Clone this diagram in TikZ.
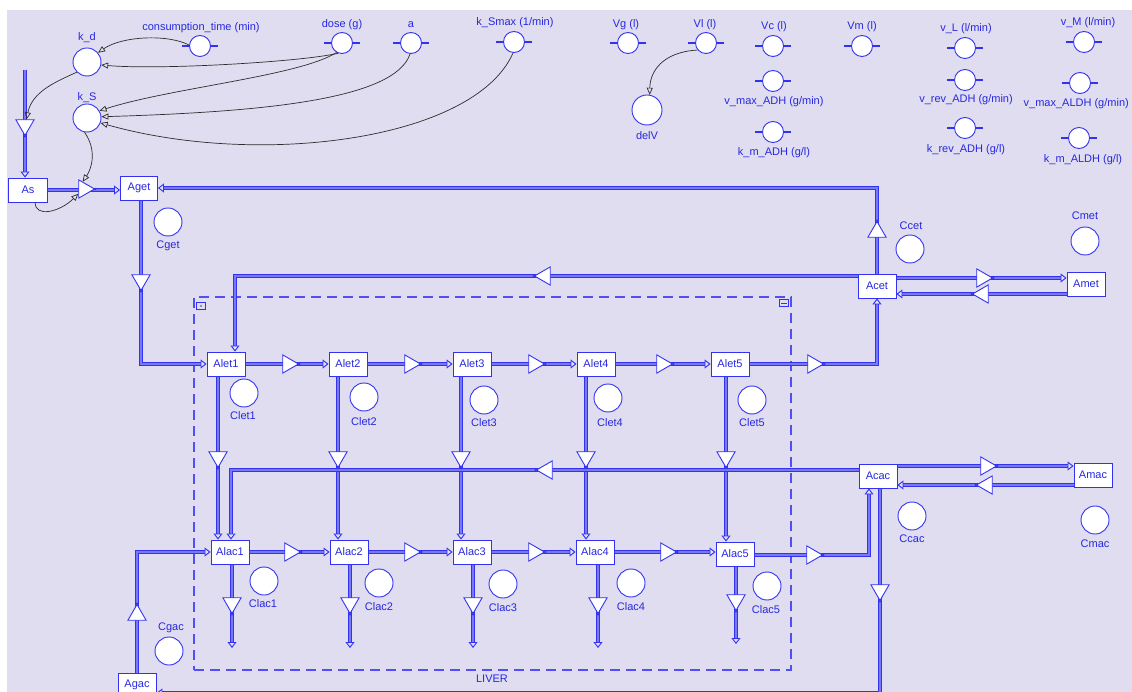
\documentclass[tikz,border=0pt]{standalone}
\usepackage{fontspec}
\setmainfont{Liberation Sans}
\usetikzlibrary{arrows.meta,shapes.geometric,calc}
\definecolor{bgc}{RGB}{223,221,239}
\definecolor{pb}{RGB}{50,50,240}
\definecolor{pf}{RGB}{120,120,250}
\definecolor{tb}{RGB}{40,40,225}
\definecolor{ik}{RGB}{45,45,45}
\newcommand\dfont{\fontsize{11}{13}\selectfont}
\pgfdeclarelayer{back}
\pgfdeclarelayer{pipes}
\pgfsetlayers{back,pipes,main}
\tikzset{
 stock/.style={rectangle, draw=pb, fill=white, line width=0.9pt, minimum width=38pt, minimum height=24pt, inner sep=1pt, text=tb, font=\dfont},
 conv/.style={circle, draw=pb, fill=white, line width=0.9pt, minimum size=28pt, inner sep=0pt},
 param/.style={circle, draw=pb, fill=white, line width=0.9pt, minimum size=21pt, inner sep=0pt},
 tick/.style={draw=pb, line width=1.3pt},
 lab/.style={text=tb, font=\dfont, inner sep=1pt, text height=8pt, text depth=2.5pt},
 valve/.style={regular polygon, regular polygon sides=3, draw=pb, fill=white, line width=0.9pt, minimum size=21pt, inner sep=0pt},
 valveR/.style={valve, shape border rotate=-90},
 valveL/.style={valve, shape border rotate=90},
 valveU/.style={valve, shape border rotate=0},
 valveD/.style={valve, shape border rotate=180},
 pipe/.style={draw=pb, line width=3.6pt, shorten >=6pt,
   postaction={draw=pf, line width=1.4pt, shorten >=6pt},
   postaction={draw=pf, line width=0.5pt, shorten >=0pt, -{Triangle[open, color=pb, length=6pt, width=9pt, line width=0.9pt]}}},
 info/.style={draw=ik, line width=0.7pt, -{Triangle[open, length=7pt, width=6pt]}},
 liverbox/.style={rectangle, draw=pb!85, dash pattern=on 10pt off 6pt, line width=1.2pt, minimum width=597pt, minimum height=373pt, inner sep=0pt},
 icon/.style={rectangle, draw=pb, fill=bgc, minimum width=9pt, minimum height=7pt, inner sep=0pt, line width=0.7pt}
}
\begin{document}
\begin{tikzpicture}[x=1pt,y=-1pt]
\useasboundingbox (0,0) rectangle (1132,692);
\begin{pgfonlayer}{back}
\fill[white] (0,0) rectangle (1132,692);
\fill[bgc] (7,10) rectangle (1132,692);
\end{pgfonlayer}

% ---------- parameters ----------
\node[param] (ct) at (200,46) {};
\node[lab] (lct) at (201,28) {consumption\_time (min)};
\node[param] (dose) at (342,43) {};
\node[lab] (ldose) at (342,25) {dose (g)};
\node[param] (pa) at (411,43) {};
\node[lab] (lpa) at (411,25) {a};
\node[param] (ksm) at (514,42) {};
\node[lab] (lksm) at (515,23) {k\_Smax (1/min)};
\node[param] (vg) at (628,43) {};
\node[lab] (lvg) at (626,25) {Vg (l)};
\node[param] (pVl) at (706,43) {};
\node[lab] (lpVl) at (705,25) {Vl (l)};
\node[param] (vc) at (773,46) {};
\node[lab] (lvc) at (774,27) {Vc (l)};
\node[param] (vm) at (862,46) {};
\node[lab] (lvm) at (862,27) {Vm (l)};
\node[param] (vmadh) at (773,81) {};
\node[lab] (lvmadh) at (774,102) {v\_max\_ADH (g/min)};
\node[param] (kmadh) at (773,132) {};
\node[lab] (lkmadh) at (774,153) {k\_m\_ADH (g/l)};
\node[param] (pvL) at (965,48) {};
\node[lab] (lpvL) at (966,29) {v\_L (l/min)};
\node[param] (vradh) at (965,80) {};
\node[lab] (lvradh) at (966,100) {v\_rev\_ADH (g/min)};
\node[param] (kradh) at (965,128) {};
\node[lab] (lkradh) at (966,150) {k\_rev\_ADH (g/l)};
\node[param] (pvM) at (1084,42) {};
\node[lab] (lpvM) at (1088,23) {v\_M (l/min)};
\node[param] (vmaldh) at (1080,83) {};
\node[lab, anchor=east] (lvmaldh) at (1130,104) {v\_max\_ALDH (g/min)};
\node[param] (kmaldh) at (1079,138) {};
\node[lab] (lkmaldh) at (1083,160) {k\_m\_ALDH (g/l)};
\foreach \n in {ct,dose,pa,ksm,vg,pVl,vc,vm,vmadh,kmadh,pvL,vradh,kradh,pvM,vmaldh,kmaldh}
  \draw[tick] (\n.west) -- ++(-7,0) (\n.east) -- ++(7,0);

% ---------- converters ----------
\node[conv] (kd) at (87,62) {};
\node[lab] (lkd) at (87,38) {k\_d};
\node[conv] (kS) at (87,118) {};
\node[lab] (lkS) at (87,98) {k\_S};
\node[conv, minimum size=30pt] (delV) at (647,110) {};
\node[lab] (ldelV) at (647,137) {delV};
\node[conv] (Cget) at (168,222) {};
\node[lab] (lCget) at (168,246) {Cget};
\node[conv] (Ccet) at (910,249) {};
\node[lab] (lCcet) at (911,227) {Ccet};
\node[conv] (Cmet) at (1085,241) {};
\node[lab] (lCmet) at (1085,217) {Cmet};
\node[conv] (Clet1) at (244,393) {};
\node[lab] (lClet1) at (243,417) {Clet1};
\node[conv] (Clet2) at (364,397) {};
\node[lab] (lClet2) at (364,423) {Clet2};
\node[conv] (Clet3) at (484,400) {};
\node[lab] (lClet3) at (484,424) {Clet3};
\node[conv] (Clet4) at (608,398) {};
\node[lab] (lClet4) at (610,424) {Clet4};
\node[conv] (Clet5) at (752,400) {};
\node[lab] (lClet5) at (752,424) {Clet5};
\node[conv] (Clac1) at (264,581) {};
\node[lab] (lClac1) at (263,605) {Clac1};
\node[conv] (Clac2) at (379,583) {};
\node[lab] (lClac2) at (379,608) {Clac2};
\node[conv] (Clac3) at (503,584) {};
\node[lab] (lClac3) at (503,609) {Clac3};
\node[conv] (Clac4) at (631,583) {};
\node[lab] (lClac4) at (631,608) {Clac4};
\node[conv] (Clac5) at (767,586) {};
\node[lab] (lClac5) at (766,611) {Clac5};
\node[conv] (Ccac) at (912,516) {};
\node[lab] (lCcac) at (912,540) {Ccac};
\node[conv] (Cmac) at (1095,520) {};
\node[lab] (lCmac) at (1095,545) {Cmac};
\node[conv] (Cgac) at (169,651) {};
\node[lab] (lCgac) at (171,628) {Cgac};

% ---------- stocks ----------
\node[stock, minimum width=39pt] (As) at (28,190) {As};
\node[stock, minimum width=37pt] (Aget) at (139,188) {Aget};
\node[stock] (Alet1) at (226,364) {Alet1};
\node[stock] (Alet2) at (348,364) {Alet2};
\node[stock] (Alet3) at (472,364) {Alet3};
\node[stock] (Alet4) at (596,364) {Alet4};
\node[stock] (Alet5) at (730,364) {Alet5};
\node[stock] (Acet) at (877,286) {Acet};
\node[stock] (Amet) at (1086,284) {Amet};
\node[stock] (Alac1) at (230,552) {Alac1};
\node[stock] (Alac2) at (349,552) {Alac2};
\node[stock] (Alac3) at (472,552) {Alac3};
\node[stock] (Alac4) at (595,552) {Alac4};
\node[stock] (Alac5) at (735,554) {Alac5};
\node[stock] (Acac) at (878,476) {Acac};
\node[stock] (Amac) at (1093,475) {Amac};
\node[stock] (Agac) at (137,685) {Agac};

% ---------- liver container ----------
\begin{pgfonlayer}{pipes}
\node[liverbox] (liver) at (492.5,483.5) {};
\end{pgfonlayer}
\node[icon] (icoL) at (201,306) {};
\fill[pb] (icoL.center) circle (0.9pt);
\node[icon] (icoR) at (784,303) {};
\draw[pb, line width=0.8pt] ($(icoR.center)+(-3,0)$) -- ($(icoR.center)+(3,0)$);
\node[lab] (lliver) at (492,680) {LIVER};

% ---------- helper coordinates ----------
\coordinate (inTop) at (25,70);
\coordinate (xg) at (141,0);
\coordinate (xl) at (235,0);
\coordinate (d1) at (218,0);
\coordinate (d2) at (338,0);
\coordinate (d3) at (461,0);
\coordinate (d4) at (586,0);
\coordinate (d5) at (726,0);
\coordinate (xc1) at (231,0);
\coordinate (xc2) at (869,0);
\coordinate (xa) at (137,0);
\coordinate (s1) at (232,648);
\coordinate (s2) at (350,648);
\coordinate (s3) at (473,648);
\coordinate (s4) at (598,648);
\coordinate (s5) at (736,644);
\coordinate (cb) at (880,693);

% ---------- pipes ----------
\begin{pgfonlayer}{pipes}
\draw[pipe] (inTop) -- (As.north -| inTop);
\draw[pipe] (As.east) -- (As.east -| Aget.west);
\draw[pipe] (Aget.south -| xg) |- (Alet1.west);
\draw[pipe] (Acet.north) |- (Aget.east);
\draw[pipe] ($(Acet.west)+(0,-10)$) -| (Alet1.north -| xl);
\draw[pipe] ($(Acet.east)+(0,-8)$) -- ($(Amet.west)+(0,-6)$);
\draw[pipe] ($(Amet.west)+(0,10)$) -- ($(Acet.east)+(0,8)$);
\draw[pipe] (Alet1.east) -- (Alet2.west);
\draw[pipe] (Alet2.east) -- (Alet3.west);
\draw[pipe] (Alet3.east) -- (Alet4.west);
\draw[pipe] (Alet4.east) -- (Alet5.west);
\draw[pipe] (Alet5.east) -| (Acet.south);
\draw[pipe] (Alet1.south -| d1) -- (Alac1.north -| d1);
\draw[pipe] (Alet2.south -| d2) -- (Alac2.north -| d2);
\draw[pipe] (Alet3.south -| d3) -- (Alac3.north -| d3);
\draw[pipe] (Alet4.south -| d4) -- (Alac4.north -| d4);
\draw[pipe] (Alet5.south -| d5) -- (Alac5.north -| d5);
\draw[pipe] ($(Acac.west)+(0,-6)$) -| (Alac1.north -| xc1);
\draw[pipe] (Alac1.east) -- (Alac2.west);
\draw[pipe] (Alac2.east) -- (Alac3.west);
\draw[pipe] (Alac3.east) -- (Alac4.west);
\draw[pipe] (Alac4.east) -- (Alac4.east -| Alac5.west);
\draw[pipe] ($(Alac5.east)+(0,1)$) -| (Acac.south -| xc2);
\draw[pipe] ($(Acac.east)+(0,-10)$) -- ($(Amac.west)+(0,-9)$);
\draw[pipe] ($(Amac.west)+(0,10)$) -- ($(Acac.east)+(0,9)$);
\draw[pipe] (Alac1.south -| s1) -- (s1);
\draw[pipe] (Alac2.south -| s2) -- (s2);
\draw[pipe] (Alac3.south -| s3) -- (s3);
\draw[pipe] (Alac4.south -| s4) -- (s4);
\draw[pipe] (Alac5.south -| s5) -- (s5);
\draw[pipe] (Acac.south -| cb) -- (cb) -- (cb -| Agac.east);
\draw[pipe] (Agac.north -| xa) |- (Alac1.west);
\end{pgfonlayer}

% ---------- valves ----------
\node[valveD] (Vin) at (25,125) {};
\node[valveR] (Vsg) at (84,189) {};
\node[valveD] (Vgl) at (141,280) {};
\node[valveU] (Vcg) at (877,232) {};
\node[valveL] (Vcl) at (545,276) {};
\node[valveR] (Vcm) at (982,278) {};
\node[valveL] (Vmc) at (983,294) {};
\node[valveR] (Vl1) at (288,364) {};
\node[valveR] (Vl2) at (410,364) {};
\node[valveR] (Vl3) at (534,364) {};
\node[valveR] (Vl4) at (662,364) {};
\node[valveR] (Vl5) at (813,364) {};
\node[valveD] (Vd1) at (218,457) {};
\node[valveD] (Vd2) at (338,457) {};
\node[valveD] (Vd3) at (461,457) {};
\node[valveD] (Vd4) at (586,457) {};
\node[valveD] (Vd5) at (726,457) {};
\node[valveL] (Vac) at (547,470) {};
\node[valveR] (Vc1) at (290,552) {};
\node[valveR] (Vc2) at (410,552) {};
\node[valveR] (Vc3) at (534,552) {};
\node[valveR] (Vc4) at (666,552) {};
\node[valveR] (Vc5) at (812,555) {};
\node[valveR] (Vam) at (986,466) {};
\node[valveL] (Vma) at (987,485) {};
\node[valveD] (Vco) at (880,590) {};
\node[valveD] (Vo1) at (232,603) {};
\node[valveD] (Vo2) at (350,603) {};
\node[valveD] (Vo3) at (473,603) {};
\node[valveD] (Vo4) at (598,603) {};
\node[valveD] (Vo5) at (736,600) {};
\node[valveU] (Vga) at (137,615) {};
\foreach \v in {Vin,Vsg,Vgl,Vcg,Vcl,Vcm,Vmc,Vl1,Vl2,Vl3,Vl4,Vl5,Vd1,Vd2,Vd3,Vd4,Vd5,Vac,Vc1,Vc2,Vc3,Vc4,Vc5,Vam,Vma,Vco,Vo1,Vo2,Vo3,Vo4,Vo5,Vga}
  \fill[pb] (\v.corner 1) circle (1.3pt);

% ---------- information links ----------
\draw[info] (ct.175) .. controls (168,34) and (122,36) .. (kd.40);
\draw[info] (dose.250) .. controls (300,62) and (160,70) .. (kd.-12);
\draw[info] (dose.240) .. controls (300,76) and (170,88) .. (kS.30);
\draw[info] (pa.265) .. controls (395,100) and (260,112) .. (kS.5);
\draw[info] (ksm.265) .. controls (475,140) and (260,168) .. (kS.-20);
\draw[info] (kd.225) .. controls (55,82) and (32,92) .. (Vin.75);
\draw[info] (kS.260) .. controls (97,150) and (92,168) .. (Vsg.100);
\draw[info] (As.300) .. controls (35,218) and (60,212) .. (Vsg.220);
\draw[info] (pVl.220) .. controls (662,52) and (650,72) .. (delV.80);
\end{tikzpicture}
\end{document}
